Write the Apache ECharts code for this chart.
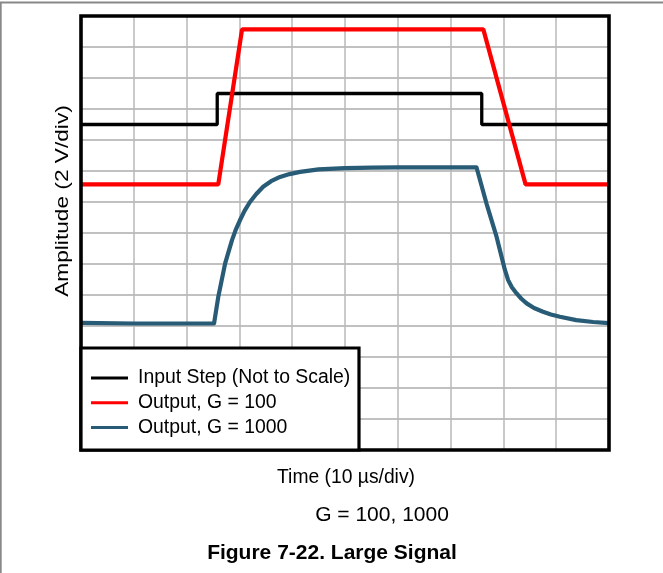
<!DOCTYPE html>
<html>
<head>
<meta charset="utf-8">
<script src="https://cdn.jsdelivr.net/npm/echarts@6/dist/echarts.min.js"></script>
<style>
html,body{margin:0;padding:0;background:#fff;}
#c{width:663px;height:573px;}
</style>
</head>
<body>
<div id="c"></div>
<script>
// Time in divisions (10 µs/div), amplitude in divisions (2 V/div)
const inputT   = [0, 2.58, 2.58, 7.59, 7.59, 10];
const inputA   = [10.5, 10.5, 11.5, 11.5, 10.5, 10.5];

const g100T    = [0, 2.60, 3.05, 7.62, 8.42, 10];
const g100A    = [8.57, 8.57, 13.57, 13.57, 8.57, 8.57];

const g1000T   = [0, 1.0, 2.52, 2.60, 2.73, 2.86, 2.93, 3.01, 3.10, 3.20, 3.32, 3.45, 3.60, 3.77, 3.95, 4.15, 4.50,
                  5.0, 5.5, 6.0, 7.49,
                  7.68, 7.87, 8.03, 8.09, 8.16, 8.25, 8.34, 8.44, 8.58, 8.75, 8.90, 9.07, 9.38, 9.70, 10];
const g1000A   = [4.10, 4.08, 4.08, 4.94, 6.02, 6.77, 7.10, 7.41, 7.72, 8.00, 8.26, 8.49, 8.67, 8.81, 8.90, 8.97, 9.05,
                  9.09, 9.11, 9.12, 9.12,
                  7.95, 6.88, 5.80, 5.48, 5.25, 5.05, 4.88, 4.73, 4.58, 4.46, 4.37, 4.30, 4.19, 4.13, 4.09];

const seriesNames = ['Input Step (Not to Scale)', 'Output, G = 100', 'Output, G = 1000'];
const xTitle = 'Time (10 µs/div)';
const yTitle = 'Amplitude (2 V/div)';
const subTitle = 'G = 100, 1000';
const figTitle = 'Figure 7-22. Large Signal';

const zip = (a, b) => a.map((v, i) => [v, b[i]]);
const FONT = '"Liberation Sans", Arial, sans-serif';

const chart = echarts.init(document.getElementById('c'), null, {renderer: 'canvas'});
chart.setOption({
  animation: false,
  backgroundColor: '#fff',
  grid: {left: 81, top: 16, right: 54, bottom: 123, show: false},
  xAxis: {
    type: 'value', min: 0, max: 10, interval: 1,
    axisLine: {show: false}, axisTick: {show: false}, axisLabel: {show: false},
    splitLine: {show: true, lineStyle: {color: '#b8b8b8', width: 1.5}}
  },
  yAxis: {
    type: 'value', min: 0, max: 14, interval: 1,
    axisLine: {show: false}, axisTick: {show: false}, axisLabel: {show: false},
    splitLine: {show: true, lineStyle: {color: '#adadad', width: 1.5}}
  },
  legend: {
    orient: 'vertical', left: 86, top: 363, z: 20,
    itemWidth: 37, itemHeight: 3, itemGap: 4.7,
    icon: 'rect',
    textStyle: {fontFamily: FONT, fontSize: 19.4, color: '#000', lineHeight: 20, padding: [0, 0, 0, 5]},
    data: seriesNames
  },
  series: [
    {name: seriesNames[0], type: 'line', data: zip(inputT, inputA), showSymbol: false, symbol: 'none',
     color: '#000', lineStyle: {color: '#000', width: 3.3}, z: 3},
    {name: seriesNames[1], type: 'line', data: zip(g100T, g100A), showSymbol: false, symbol: 'none',
     color: '#ff0000', lineStyle: {color: '#ff0000', width: 4.2}, z: 4},
    {name: seriesNames[2], type: 'line', data: zip(g1000T, g1000A), showSymbol: false, symbol: 'none',
     color: '#285b75', lineStyle: {color: '#285b75', width: 4.2, join: 'round'}, z: 5}
  ],
  graphic: [
    {type: 'line', shape: {x1: 0, y1: 2.5, x2: 663, y2: 2.5}, style: {stroke: '#888', lineWidth: 1.8}, z: 1},
    {type: 'line', shape: {x1: 0.8, y1: 2.5, x2: 0.8, y2: 573}, style: {stroke: '#888', lineWidth: 1.8}, z: 1},
    {type: 'rect', shape: {x: 81, y: 16, width: 528, height: 434}, style: {fill: 'none', stroke: '#000', lineWidth: 3.6}, z: 9},
    {type: 'rect', shape: {x: 81, y: 348, width: 278, height: 102}, style: {fill: '#fff', stroke: '#000', lineWidth: 3.2}, z: 10},
    {type: 'text', x: 63, y: 201, rotation: Math.PI / 2, scaleX: 1.26,
     style: {text: yTitle, font: '18px ' + FONT, fill: '#000', textAlign: 'center', textVerticalAlign: 'middle'}, z: 10},
    {type: 'text', x: 346, y: 478,
     style: {text: xTitle, font: '19.3px ' + FONT, fill: '#000', textAlign: 'center', textVerticalAlign: 'middle'}, z: 10},
    {type: 'text', x: 382, y: 515,
     style: {text: subTitle, font: '21px ' + FONT, fill: '#000', textAlign: 'center', textVerticalAlign: 'middle'}, z: 10},
    {type: 'text', x: 332, y: 553,
     style: {text: figTitle, font: 'bold 21px ' + FONT, fill: '#000', textAlign: 'center', textVerticalAlign: 'middle'}, z: 10}
  ]
});
</script>
</body>
</html>
